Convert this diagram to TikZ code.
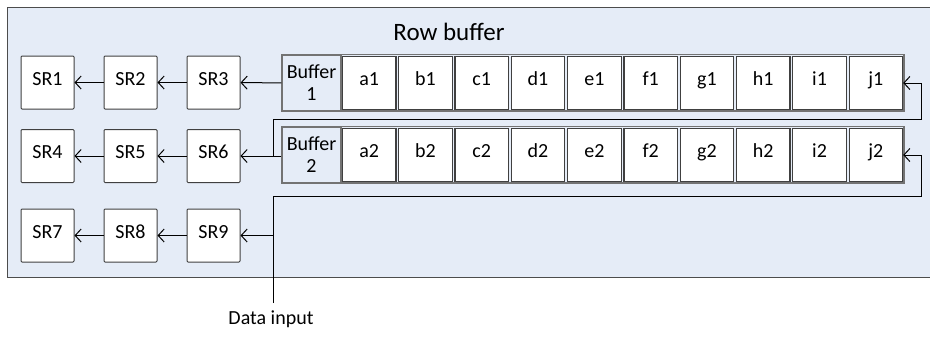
\documentclass[tikz,border=0pt]{standalone}
\usepackage{fontspec}
\setmainfont{Carlito}
\usetikzlibrary{arrows.meta}

\definecolor{rowbg}{HTML}{E5ECF7}
\definecolor{edge}{HTML}{404040}

\begin{document}
\begin{tikzpicture}[x=1pt,y=-1pt,line width=1pt,>={Straight Barb[length=6pt,width=13pt]}]
	\tikzstyle{every node} = [inner sep=0pt,font=\fontsize{20}{22}\selectfont];
	\tikzstyle{reg} = [draw=edge,fill=white,rounded corners=1pt,minimum width=53pt,minimum height=53pt,text height=1.45ex,text depth=.3ex];
	\tikzstyle{cell} = [draw=edge,fill=white,line width=1.2pt,minimum width=53.5pt,minimum height=53pt,text height=1.45ex,text depth=.3ex];
	\tikzstyle{buflabel} = [draw=black!55,line width=1.4pt,fill=rowbg,minimum width=59pt,minimum height=56pt,align=center];
	\useasboundingbox (0,0) rectangle (930,359);
	% row buffer frame
	\draw[black!70,fill=rowbg] (7,7.5) rectangle (940,277);
	\node[font=\fontsize{25}{27}\selectfont] (title) at (449,32) {Row buffer};
	% shift registers
	\node[reg] (sr1) at (47.5,82.5) {SR1};
	\node[reg] (sr2) at (130.5,82.5) {SR2};
	\node[reg] (sr3) at (213.5,82.5) {SR3};
	\node[reg] (sr4) at (47.5,156) {SR4};
	\node[reg] (sr5) at (130.5,156) {SR5};
	\node[reg] (sr6) at (213.5,156) {SR6};
	\node[reg] (sr7) at (47.5,235.5) {SR7};
	\node[reg] (sr8) at (130.5,235.5) {SR8};
	\node[reg] (sr9) at (213.5,235.5) {SR9};
	% line buffers
	\node[buflabel] (buf1) at (311.5,83) {Buffer\\1};
	\node[buflabel] (buf2) at (311.5,155) {Buffer\\2};
	\draw[black!55,line width=1.4pt] (buf1.north west) rectangle (904,111);
	\draw[black!55,line width=1.4pt] (buf2.north west) rectangle (904,183);
	\foreach \l [count=\i from 0] in {a,b,c,d,e,f,g,h,i,j} {
		\node[cell] (\l1) at (341+56.3*\i+28.15,83) {\l1};
		\node[cell] (\l2) at (341+56.3*\i+28.15,155) {\l2};
	}
	% data flow
	\coordinate (tap2) at (273,156);
	\coordinate (ret1) at (921,119);
	\coordinate (din) at (273,303);
	\coordinate (ret2) at (921,196);
	\draw[->] (sr2) -- (sr1);
	\draw[->] (sr3) -- (sr2);
	\draw[->] (buf1) -- (sr3);
	\draw[->] (sr5) -- (sr4);
	\draw[->] (sr6) -- (sr5);
	\draw[->] (buf2.west |- sr6) -- (sr6);
	\draw[->] (sr8) -- (sr7);
	\draw[->] (sr9) -- (sr8);
	\draw[->] (din |- sr9) -- (sr9);
	\draw[->] (tap2) |- (ret1) |- (j1.east);
	\draw[->] (din) |- (ret2) |- (j2.east);
	\node (label) at (271,319) {Data input};
\end{tikzpicture}
\end{document}
